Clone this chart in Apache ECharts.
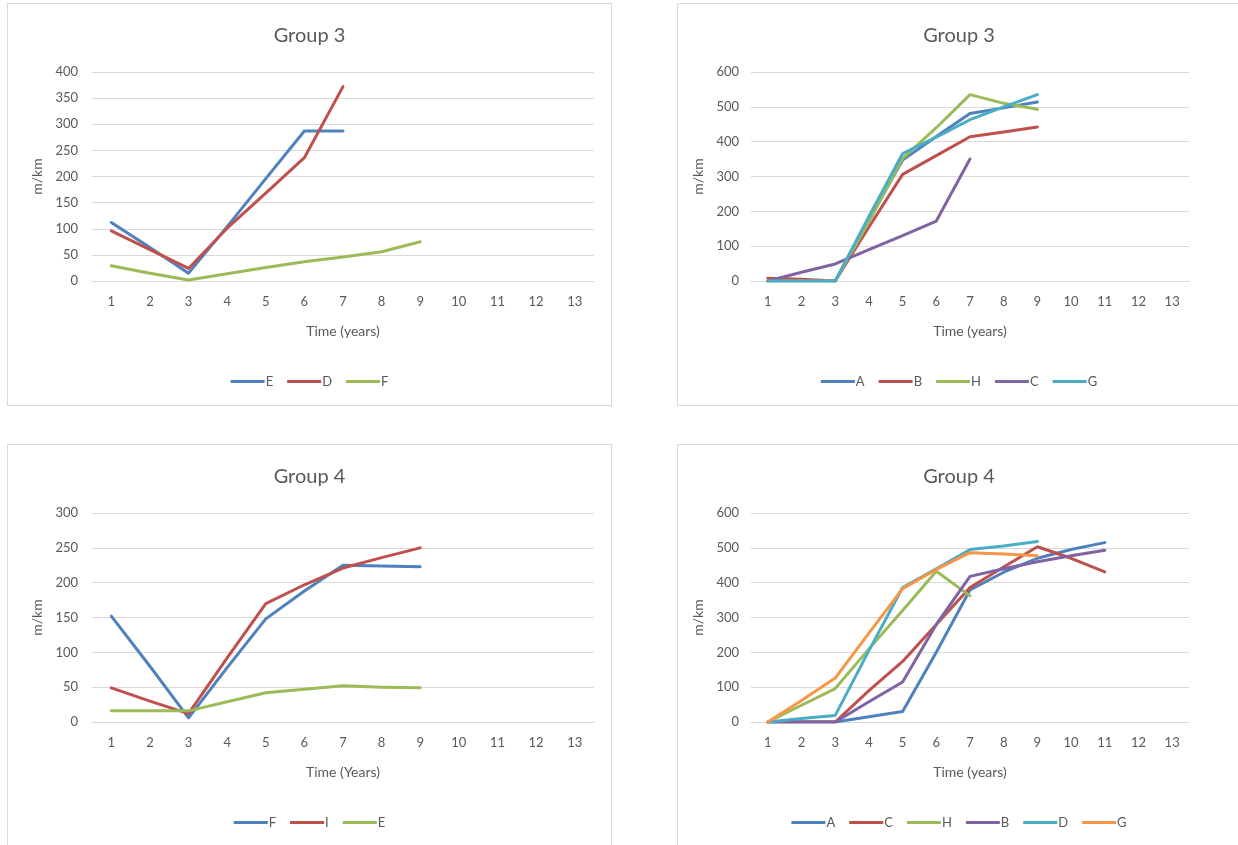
<!DOCTYPE html>
<html><head><meta charset="utf-8">
<script src="https://cdn.jsdelivr.net/npm/echarts@6/dist/echarts.min.js"></script>
<style>
html,body{margin:0;padding:0;background:#fff;width:1238px;height:845px;overflow:hidden;position:relative;}
.p{position:absolute;border:1px solid #d9d9d9;box-sizing:border-box;background:#fff;}
</style></head><body>
<div id="c1" class="p" style="left:7px;top:3px;width:605px;height:403px;"></div>
<div id="c2" class="p" style="left:677px;top:3px;width:564px;height:403px;"></div>
<div id="c3" class="p" style="left:7px;top:444px;width:605px;height:410px;"></div>
<div id="c4" class="p" style="left:677px;top:444px;width:564px;height:410px;"></div>
<script>
const years = ['1','2','3','4','5','6','7','8','9','10','11','12','13'];

// Top-left: Group 3
const g3a_E = [112, 64, 15, 104, 196, 287, 287];
const g3a_D = [96, 60, 24, 101, 168, 236, 372];
const g3a_F = [29, 15, 2, 14, 26, 37, 46, 56, 75];

// Top-right: Group 3
const g3b_A = [0, 0, 0, 175, 347, 415, 481, 497, 514];
const g3b_B = [8, 5, 0, 155, 306, 360, 414, 428, 442];
const g3b_H = [0, 0, 0, 170, 352, 440, 535, 510, 493];
const g3b_C = [0, 25, 49, 90, 130, 172, 350];
const g3b_G = [0, 0, 0, 185, 366, 413, 463, 500, 535];

// Bottom-left: Group 4
const g4a_F = [152, 80, 6, 78, 148, 188, 225, 224, 223];
const g4a_I = [49, 30, 12, 92, 170, 197, 221, 236, 250];
const g4a_E = [16, 16, 16, 29, 42, 47, 52, 50, 49];

// Bottom-right: Group 4
const g4b_A = [0, 0, 0, 15, 30, 200, 379, 430, 470, 495, 515];
const g4b_C = [0, 0, 0, 90, 174, 280, 386, 445, 503, 470, 431];
const g4b_H = [0, 48, 96, 210, 320, 433, 362];
const g4b_B = [0, 0, 0, 58, 115, 280, 418, 440, 460, 477, 493];
const g4b_D = [0, 10, 19, 205, 386, 440, 495, 505, 518];
const g4b_G = [0, 62, 126, 255, 383, 438, 486, 482, 477];

const COL = {blue:'#4F81BD', red:'#C0504D', green:'#9BBB59', purple:'#8064A2', cyan:'#4BACC6', orange:'#F79646'};
const FONT = 'Lato, "Open Sans", sans-serif';
const TXT = '#595959';

function make(id, title, xName, yMax, yInt, gridLeft, gridWidth, yNameGap, yLabelMargin, series) {
  const chart = echarts.init(document.getElementById(id), null, {renderer:'canvas'});
  chart.setOption({
    animation:false,
    textStyle:{fontFamily:FONT},
    title:{text:title, left:'center', top:17,
      textStyle:{fontFamily:FONT, fontSize:20, fontWeight:'normal', color:TXT}},
    legend:{top:366, left:'center', icon:'rect', itemWidth:34, itemHeight:3, itemGap:14,
      textStyle:{fontFamily:FONT, fontSize:13, color:TXT, padding:[0,0,0,-4]},
      data: series.map(s=>s.name)},
    grid:{left:gridLeft, top:68, width:gridWidth, height:209, containLabel:false},
    xAxis:{type:'category', data:years, boundaryGap:true,
      name:xName, nameLocation:'middle', nameGap:43,
      nameTextStyle:{fontFamily:FONT, fontSize:14, color:TXT},
      axisLine:{lineStyle:{color:'#d9d9d9'}}, axisTick:{show:false},
      axisLabel:{color:TXT, fontSize:13, margin:14, fontFamily:FONT}},
    yAxis:{type:'value', min:0, max:yMax, interval:yInt,
      name:'m/km', nameLocation:'middle', nameGap:yNameGap, nameRotate:90,
      nameTextStyle:{fontFamily:FONT, fontSize:14, color:TXT},
      axisLine:{show:false}, axisTick:{show:false},
      splitLine:{lineStyle:{color:'#d9d9d9', width:1}},
      axisLabel:{color:TXT, fontSize:13, margin:yLabelMargin, fontFamily:FONT}},
    series: series.map(s=>({name:s.name, type:'line', data:s.data, showSymbol:false, symbol:'none',
      lineStyle:{width:3, color:s.color, cap:'round', join:'round'}, itemStyle:{color:s.color}}))
  });
}

make('c1','Group 3','Time (years)',400,50,84,502,44,14,[
  {name:'E', data:g3a_E, color:COL.blue},
  {name:'D', data:g3a_D, color:COL.red},
  {name:'F', data:g3a_F, color:COL.green}]);

make('c2','Group 3','Time (years)',600,100,73,438,38,12,[
  {name:'A', data:g3b_A, color:COL.blue},
  {name:'B', data:g3b_B, color:COL.red},
  {name:'H', data:g3b_H, color:COL.green},
  {name:'C', data:g3b_C, color:COL.purple},
  {name:'G', data:g3b_G, color:COL.cyan}]);

make('c3','Group 4','Time (Years)',300,50,84,502,44,14,[
  {name:'F', data:g4a_F, color:COL.blue},
  {name:'I', data:g4a_I, color:COL.red},
  {name:'E', data:g4a_E, color:COL.green}]);

make('c4','Group 4','Time (years)',600,100,73,438,38,12,[
  {name:'A', data:g4b_A, color:COL.blue},
  {name:'C', data:g4b_C, color:COL.red},
  {name:'H', data:g4b_H, color:COL.green},
  {name:'B', data:g4b_B, color:COL.purple},
  {name:'D', data:g4b_D, color:COL.cyan},
  {name:'G', data:g4b_G, color:COL.orange}]);
</script>
</body></html>
